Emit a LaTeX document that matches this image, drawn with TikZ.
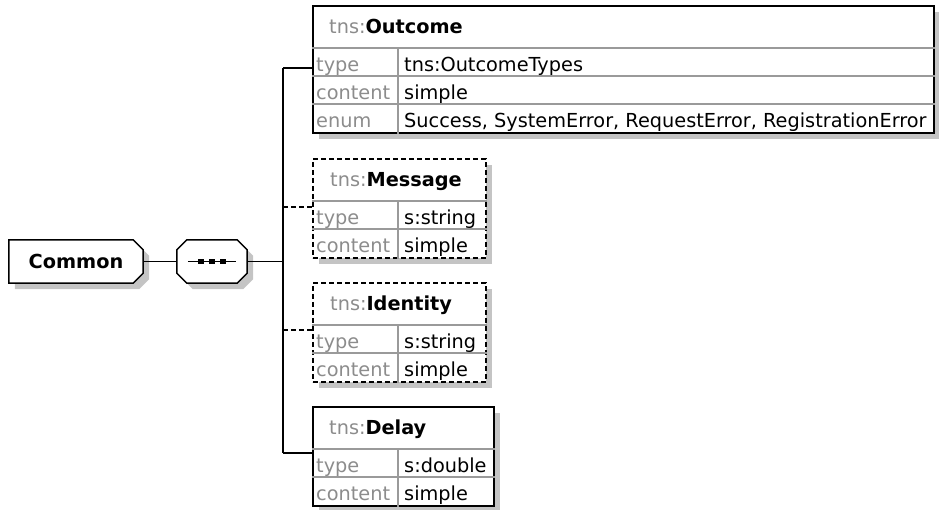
\documentclass[tikz,border=0pt]{standalone}
\usepackage{fontspec}
\setmainfont{DejaVu Sans}
\usetikzlibrary{positioning,shadows,backgrounds}
\definecolor{lbl}{HTML}{8C8C8C}
\definecolor{rule}{HTML}{9A9A9A}
\definecolor{shade}{HTML}{C4C4C4}
\tikzset{
  elem/.style={draw=black,line width=1.5pt,fill=white,anchor=north west,inner sep=0pt,
    drop shadow={shadow xshift=6pt,shadow yshift=-6pt,opacity=1,fill=shade}},
  optelem/.style={elem,dash pattern=on 5pt off 3pt},
  grid/.style={draw=rule,line width=1.3pt},
  key/.style={anchor=base west,inner sep=0pt,text=lbl,font=\fontsize{19.3}{19.3}\selectfont},
  val/.style={key,text=black},
  wire/.style={line width=1.5pt},
  optwire/.style={wire,dash pattern=on 5pt off 3pt},
  hold/.style={inner sep=0pt,minimum height=43pt},
  outline/.style={draw=black,line width=1.5pt,fill=white,line join=miter,
    drop shadow={shadow xshift=6pt,shadow yshift=-6pt,opacity=1,fill=shade}}
}

\begin{document}
\begin{tikzpicture}[x=1pt,y=-1pt]
\useasboundingbox (0,0) rectangle (939,509);
% root and sequence
\node[hold,minimum width=134pt,font=\fontsize{19.3}{19.3}\selectfont\bfseries] (common) at (76,261.5) {Common};
\node[hold,minimum width=70pt] (seq) at (212,261.5) {};
\begin{scope}[on background layer]
  \path[outline] (common.north west) -- ([xshift=-10pt]common.north east)
    -- ([yshift=-10pt]common.north east) -- ([yshift=10pt]common.south east)
    -- ([xshift=-10pt]common.south east) -- (common.south west) -- cycle;
  \path[outline] ([xshift=10pt]seq.north west) -- ([xshift=-10pt]seq.north east)
    -- ([yshift=-10pt]seq.north east) -- ([yshift=10pt]seq.south east)
    -- ([xshift=-10pt]seq.south east) -- ([xshift=10pt]seq.south west)
    -- ([yshift=10pt]seq.south west) -- ([yshift=-10pt]seq.north west) -- cycle;
\end{scope}
\draw[wire] ([xshift=11pt]seq.west) -- ([xshift=-11pt]seq.east);
\foreach \dx in {-11,0,11}
  \fill ([xshift=\dx pt]seq.center) +(-2.7,-2.7) rectangle +(2.7,2.7);
% tns:Outcome
\node[elem,minimum width=621pt,minimum height=127pt] (outcome) at (312,5) {};
\draw[grid] ([yshift=-43pt]outcome.north west) -- ([yshift=-43pt]outcome.north east);
\draw[grid] ([yshift=-71pt]outcome.north west) -- ([yshift=-71pt]outcome.north east);
\draw[grid] ([yshift=-99pt]outcome.north west) -- ([yshift=-99pt]outcome.north east);
\draw[grid] ([xshift=86pt,yshift=-43pt]outcome.north west) -- ([xshift=86pt]outcome.south west);
\node[key] (outcome-h) at (329,33) {tns:\textcolor{black}{\bfseries Outcome}};
\node[key] (outcome-k1) at (316,71) {type};
\node[val] (outcome-v1) at (404,71) {tns:OutcomeTypes};
\node[key] (outcome-k2) at (316,99) {content};
\node[val] (outcome-v2) at (404,99) {simple};
\node[key] (outcome-k3) at (316,127) {enum};
\node[val] (outcome-v3) at (404,127) {Success, SystemError, RequestError, RegistrationError};
% tns:Message
\node[optelem,minimum width=173pt,minimum height=99pt] (message) at (312,158) {};
\draw[grid] ([yshift=-43pt]message.north west) -- ([yshift=-43pt]message.north east);
\draw[grid] ([yshift=-71pt]message.north west) -- ([yshift=-71pt]message.north east);
\draw[grid] ([xshift=86pt,yshift=-43pt]message.north west) -- ([xshift=86pt]message.south west);
\node[key] (message-h) at (330,186) {tns:\textcolor{black}{\bfseries Message}};
\node[key] (message-k1) at (316,224) {type};
\node[val] (message-v1) at (404,224) {s:string};
\node[key] (message-k2) at (316,252) {content};
\node[val] (message-v2) at (404,252) {simple};
% tns:Identity
\node[optelem,minimum width=173pt,minimum height=99pt] (identity) at (312,282) {};
\draw[grid] ([yshift=-43pt]identity.north west) -- ([yshift=-43pt]identity.north east);
\draw[grid] ([yshift=-71pt]identity.north west) -- ([yshift=-71pt]identity.north east);
\draw[grid] ([xshift=86pt,yshift=-43pt]identity.north west) -- ([xshift=86pt]identity.south west);
\node[key] (identity-h) at (330,310) {tns:\textcolor{black}{\bfseries Identity}};
\node[key] (identity-k1) at (316,348) {type};
\node[val] (identity-v1) at (404,348) {s:string};
\node[key] (identity-k2) at (316,376) {content};
\node[val] (identity-v2) at (404,376) {simple};
% tns:Delay
\node[elem,minimum width=181pt,minimum height=99pt] (delay) at (312,406) {};
\draw[grid] ([yshift=-43pt]delay.north west) -- ([yshift=-43pt]delay.north east);
\draw[grid] ([yshift=-71pt]delay.north west) -- ([yshift=-71pt]delay.north east);
\draw[grid] ([xshift=86pt,yshift=-43pt]delay.north west) -- ([xshift=86pt]delay.south west);
\node[key] (delay-h) at (329,434) {tns:\textcolor{black}{\bfseries Delay}};
\node[key] (delay-k1) at (316,472) {type};
\node[val] (delay-v1) at (404,472) {s:double};
\node[key] (delay-k2) at (316,500) {content};
\node[val] (delay-v2) at (404,500) {simple};
% wires
\coordinate (j1) at (283,68);
\coordinate (j2) at (283,207);
\coordinate (j3) at (283,330);
\coordinate (j4) at (283,453);
\draw[wire] (common.east) -- (seq.west);
\draw[wire] (seq.east) -- (seq.east -| j1);
\draw[wire] (j1) -- (j4);
\draw[wire] (j1) -- (j1 -| outcome.west);
\draw[optwire] (j2) -- (j2 -| message.west);
\draw[optwire] (j3) -- (j3 -| identity.west);
\draw[wire] (j4) -- (j4 -| delay.west);
\end{tikzpicture}
\end{document}
